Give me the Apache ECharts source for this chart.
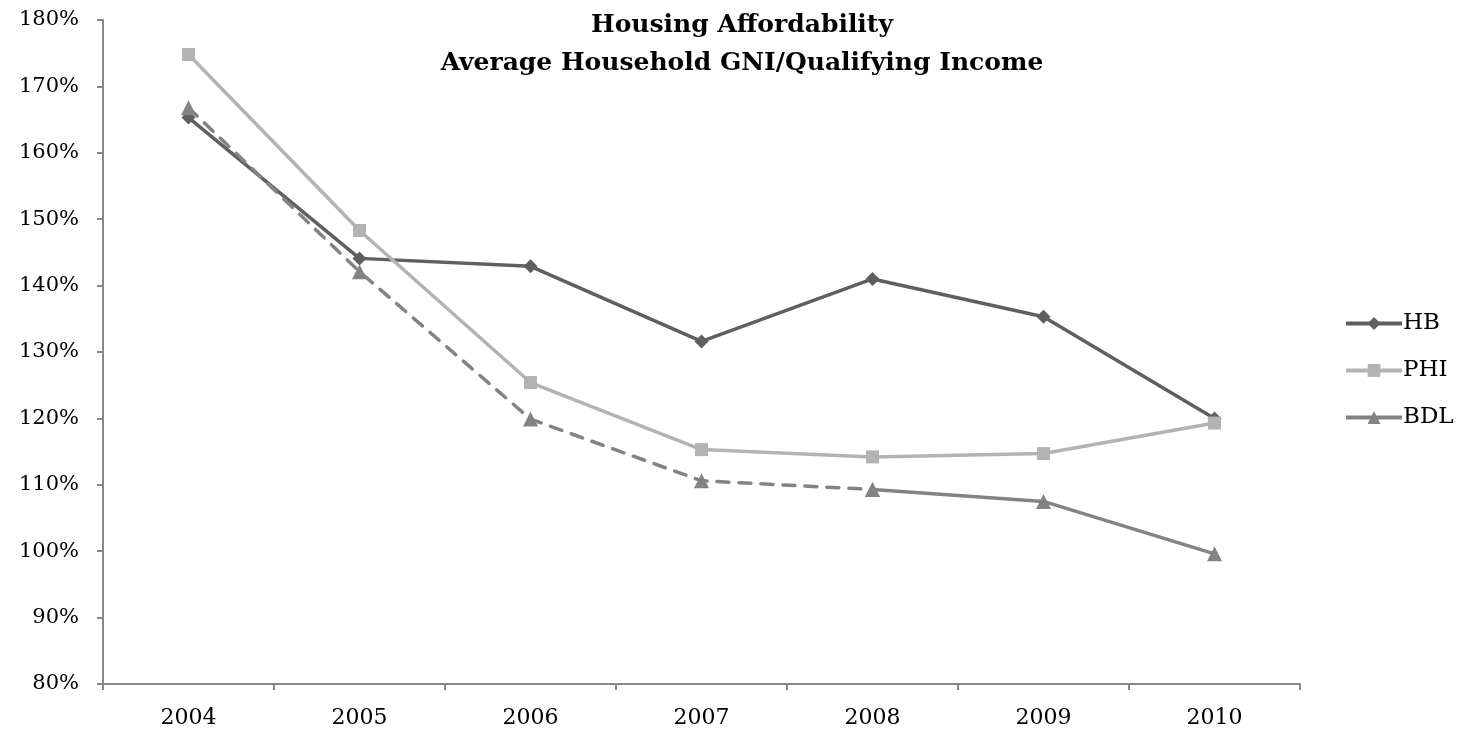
<!DOCTYPE html>
<html><head><meta charset="utf-8">
<script src="https://cdn.jsdelivr.net/npm/echarts@6/dist/echarts.min.js"></script>
<style>html,body{margin:0;padding:0;background:#fff}#c{width:1457px;height:732px}</style>
</head><body><div id="c"></div>
<script>
const categories = ['2004','2005','2006','2007','2008','2009','2010'];
const hb  = [165.3, 144.1, 142.9, 131.6, 141.0, 135.3, 120.0];
const phi = [174.8, 148.3, 125.4, 115.3, 114.2, 114.7, 119.3];
const bdl = [166.8, 142.1, 119.9, 110.6, 109.3, 107.5, 99.6];
const bdlDashedEnd = 4; // index of 2008: dashed up to here, solid after

const font = 'DejaVu Serif';
const bdlDashed = bdl.map((v,i)=> i<=bdlDashedEnd ? v : null);
const bdlSolid = bdl.map((v,i)=> i>=bdlDashedEnd ? v : null);

const chart = echarts.init(document.getElementById('c'), null, {renderer:'canvas'});
chart.setOption({
  animation:false,
  backgroundColor:'#fff',
  textStyle:{fontFamily:font,color:'#000'},
  title:{
    text:'Housing Affordability\nAverage Household GNI/Qualifying Income',
    left:737, top:1, textAlign:'center',
    textStyle:{fontFamily:font,fontWeight:'bold',fontSize:25,lineHeight:38,color:'#000'}
  },
  legend:{
    orient:'vertical', left:1339, top:307,
    data:['HB','PHI','BDL'],
    itemWidth:56, itemHeight:16, itemGap:24,
    lineStyle:{width:4},
    textStyle:{fontFamily:font,fontSize:23,color:'#000',padding:[0,0,0,-4]}
  },
  grid:{left:103,right:157,top:20,bottom:48},
  xAxis:{
    type:'category', data:categories, boundaryGap:true,
    axisLine:{lineStyle:{color:'#888',width:2}},
    axisTick:{show:true,length:6,lineStyle:{color:'#888',width:2}},
    axisLabel:{fontFamily:font,fontSize:22,color:'#000',margin:23}
  },
  yAxis:{
    type:'value', min:80, max:180, interval:10,
    axisLine:{show:true,lineStyle:{color:'#888',width:2}},
    axisTick:{show:true,length:6,lineStyle:{color:'#888',width:2}},
    splitLine:{show:false},
    axisLabel:{fontFamily:font,fontSize:21,color:'#000',margin:24,formatter:v=>v+'%'}
  },
  series:[
    {name:'HB',type:'line',data:hb,symbol:'diamond',symbolSize:14,
     lineStyle:{color:'#5f5f5f',width:3.5},itemStyle:{color:'#5f5f5f'}},
    {name:'PHI',type:'line',data:phi,symbol:'rect',symbolSize:13,
     lineStyle:{color:'#b3b3b3',width:3.5},itemStyle:{color:'#b3b3b3'}},
    {name:'BDL dashed',type:'line',data:bdlDashed,symbol:'triangle',symbolSize:15,
     lineStyle:{color:'#838383',width:3.5,type:[12,10],cap:'round'},itemStyle:{color:'#838383'}},
    {name:'BDL',type:'line',data:bdlSolid,symbol:'triangle',symbolSize:15,
     lineStyle:{color:'#838383',width:3.5},itemStyle:{color:'#838383'}}
  ]
});
</script></body></html>
